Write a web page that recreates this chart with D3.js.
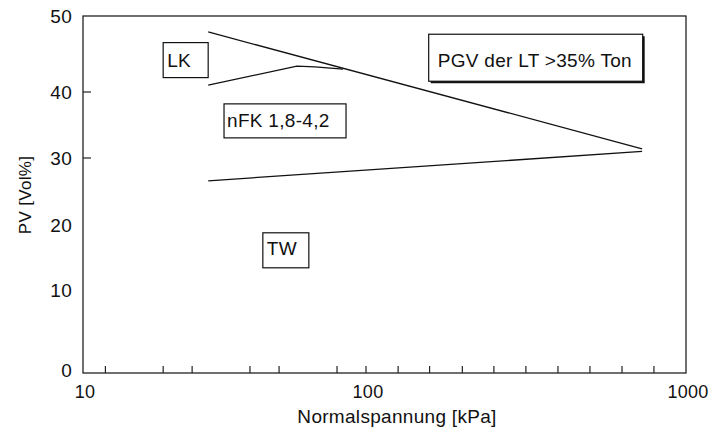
<!DOCTYPE html>
<html>
<head>
<meta charset="utf-8">
<script src="https://cdn.jsdelivr.net/npm/d3@7"></script>
<style>
    body { margin: 0; background: #fff; }
    svg text { font-family: "Liberation Sans", Arial, Helvetica, sans-serif; fill: #111; letter-spacing: 0.3px; }
</style>
</head>
<body>
<div id="chart"></div>
<script>
// Values (x = Normalspannung in kPa, y = PV in Vol%).
const xTickValues = [10, 100, 1000]
const xMinorTicks = [12, 19.2, 24.3, 38.9, 49.3, 79, 126, 158, 200, 251, 316, 398, 501, 631, 794]
const yTickLabels = [0, 10, 20, 30, 40, 50]
const yTickMarks = [30, 40]

const upperStress = [27.7, 729]
const upperPv = [47.9, 31.4]
const lowerStress = [27.7, 729]
const lowerPv = [26.6, 31.0]
const lkStress = [27.7, 57, 66, 83]
const lkPv = [40.9, 43.4, 43.3, 43.0]

const noteLabels = ['LK', 'nFK 1,8-4,2', 'PGV der LT >35% Ton', 'TW']
const noteStress = [19.2, 31.5, 157, 43.2]
const notePv = [46.5, 38.2, 47.6, 18.8]

class PvChart {
    constructor(_config) {
        this.config = {
            parentElement: _config.parentElement,
            containerWidth: _config.containerWidth,
            containerHeight: _config.containerHeight,
            // the scan has uneven decades / gridlines, so both scales are piecewise
            xRange: [83, 366, 686],
            yRange: [373, 290, 225, 158, 92, 16],
            boxWidth: [45, 122, 214, 46],
            boxHeight: [35, 34, 47, 35],
            boxPadLeft: [4, 3, 9, 4],
            boxBaseline: [24, 23, 33, 22],
            boxShadow: [0, 0, 2, 0],
            fontSize: 19
        }
        this.initVis()
    }

    initVis() {
        let vis = this

        vis.svg = d3.select(vis.config.parentElement)
            .append('svg')
            .attr('width', vis.config.containerWidth)
            .attr('height', vis.config.containerHeight)

        vis.x = d3.scaleLog()
            .domain(xTickValues)
            .range(vis.config.xRange)

        vis.y = d3.scaleLinear()
            .domain(yTickLabels)
            .range(vis.config.yRange)

        vis.left = vis.x(10)
        vis.right = vis.x(1000)
        vis.top = vis.y(50)
        vis.bottom = vis.y(0)

        vis.renderVis()
    }

    renderVis() {
        let vis = this
        const fs = vis.config.fontSize

        // frame
        vis.svg.append('rect')
            .attr('x', vis.left)
            .attr('y', vis.top)
            .attr('width', vis.right - vis.left)
            .attr('height', vis.bottom - vis.top)
            .attr('fill', 'none')
            .attr('stroke', '#222')
            .attr('stroke-width', 1.3)

        // x ticks point inwards
        vis.svg.selectAll('.x-minor')
            .data(xMinorTicks.concat([100]))
            .join('line')
            .attr('class', 'x-minor')
            .attr('x1', d => vis.x(d))
            .attr('x2', d => vis.x(d))
            .attr('y1', vis.bottom)
            .attr('y2', vis.bottom - 7)
            .attr('stroke', '#222')
            .attr('stroke-width', 1.2)

        vis.svg.selectAll('.x-label')
            .data(xTickValues)
            .join('text')
            .attr('class', 'x-label')
            .attr('x', d => vis.x(d) + 2)
            .attr('y', vis.bottom + 25)
            .attr('text-anchor', 'middle')
            .attr('font-size', fs - 1)
            .text(d => d)

        vis.svg.selectAll('.y-tick')
            .data(yTickMarks)
            .join('line')
            .attr('class', 'y-tick')
            .attr('x1', vis.left)
            .attr('x2', vis.left + 8)
            .attr('y1', d => vis.y(d))
            .attr('y2', d => vis.y(d))
            .attr('stroke', '#222')
            .attr('stroke-width', 1.2)

        vis.svg.selectAll('.y-label')
            .data(yTickLabels)
            .join('text')
            .attr('class', 'y-label')
            .attr('x', vis.left - 11)
            .attr('y', d => vis.y(d) + (d === 0 ? -3 : 0))
            .attr('dy', '0.35em')
            .attr('text-anchor', 'end')
            .attr('font-size', fs)
            .text(d => d)

        vis.svg.append('text')
            .attr('x', 397)
            .attr('y', vis.bottom + 50)
            .attr('text-anchor', 'middle')
            .attr('font-size', fs)
            .text('Normalspannung [kPa]')

        vis.svg.append('text')
            .attr('transform', `translate(31, ${195}) rotate(-90)`)
            .attr('text-anchor', 'middle')
            .attr('font-size', 17)
            .text('PV [Vol%]')

        // lines
        const line = d3.line()
            .x(d => vis.x(d[0]))
            .y(d => vis.y(d[1]))

        const series = [
            d3.zip(upperStress, upperPv),
            d3.zip(lowerStress, lowerPv),
            d3.zip(lkStress, lkPv)
        ]

        vis.svg.selectAll('.curve')
            .data(series)
            .join('path')
            .attr('class', 'curve')
            .attr('d', line)
            .attr('fill', 'none')
            .attr('stroke', '#111')
            .attr('stroke-width', 1.3)

        // boxed notes
        const notes = noteLabels.map((t, i) => ({
            text: t, x: vis.x(noteStress[i]), y: vis.y(notePv[i]), i: i
        }))

        const g = vis.svg.selectAll('.note')
            .data(notes)
            .join('g')
            .attr('class', 'note')
            .attr('transform', d => `translate(${d.x}, ${d.y})`)

        g.filter(d => vis.config.boxShadow[d.i] > 0)
            .append('rect')
            .attr('x', d => vis.config.boxShadow[d.i])
            .attr('y', d => vis.config.boxShadow[d.i])
            .attr('width', d => vis.config.boxWidth[d.i])
            .attr('height', d => vis.config.boxHeight[d.i])
            .attr('fill', '#111')

        g.append('rect')
            .attr('width', d => vis.config.boxWidth[d.i])
            .attr('height', d => vis.config.boxHeight[d.i])
            .attr('fill', '#fff')
            .attr('stroke', '#111')
            .attr('stroke-width', 1.2)

        g.append('text')
            .attr('x', d => vis.config.boxPadLeft[d.i])
            .attr('y', d => vis.config.boxBaseline[d.i])
            .attr('font-size', fs)
            .text(d => d.text)
    }
}

new PvChart({parentElement: '#chart', containerWidth: 712, containerHeight: 428})
</script>
</body>
</html>
